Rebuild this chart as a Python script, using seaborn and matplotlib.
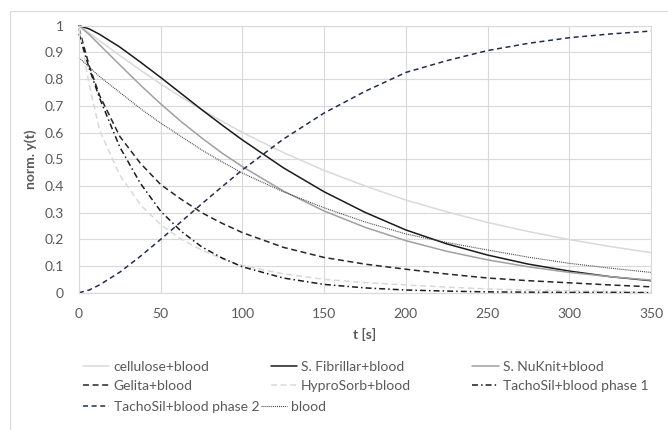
import matplotlib
matplotlib.use("Agg")
import matplotlib.pyplot as plt
import seaborn as sns
import pandas as pd
from matplotlib.patches import Rectangle

# ---------------- data ----------------
t = [0, 6.25, 12.5, 25, 37.5, 50, 62.5, 75, 87.5, 100, 125, 150, 175, 200,
     225, 250, 275, 300, 325, 350]
cellulose = [1.0, 0.973, 0.944, 0.888, 0.834, 0.782, 0.733, 0.686, 0.642, 0.600,
             0.525, 0.458, 0.400, 0.347, 0.303, 0.263, 0.229, 0.199, 0.173, 0.150]
fibrillar = [1.0, 0.988, 0.968, 0.920, 0.864, 0.806, 0.746, 0.686, 0.628, 0.572,
             0.468, 0.378, 0.301, 0.235, 0.183, 0.141, 0.107, 0.081, 0.060, 0.045]
nuknit = [1.0, 0.967, 0.929, 0.853, 0.778, 0.707, 0.641, 0.580, 0.523, 0.472,
          0.381, 0.306, 0.245, 0.195, 0.155, 0.123, 0.097, 0.076, 0.060, 0.047]
gelita = [0.99, 0.85, 0.74, 0.585, 0.485, 0.405, 0.350, 0.300, 0.260, 0.225,
          0.170, 0.132, 0.107, 0.088, 0.070, 0.055, 0.045, 0.037, 0.029, 0.022]
hyprosorb = [0.99, 0.78, 0.61, 0.44, 0.33, 0.255, 0.20, 0.16, 0.127, 0.102,
             0.071, 0.050, 0.038, 0.029, 0.021, 0.014, 0.010, 0.007, 0.005, 0.003]
tacho1 = [0.97, 0.84, 0.73, 0.545, 0.41, 0.305, 0.23, 0.172, 0.13, 0.097,
          0.055, 0.031, 0.018, 0.010, 0.006, 0.003, 0.002, 0.001, 0.001, 0.0]
tacho2 = [0.0, 0.010, 0.029, 0.077, 0.136, 0.200, 0.266, 0.332, 0.397, 0.460,
          0.575, 0.673, 0.754, 0.825, 0.869, 0.907, 0.934, 0.955, 0.969, 0.980]
blood = [0.88, 0.845, 0.81, 0.75, 0.69, 0.635, 0.585, 0.535, 0.49, 0.448,
         0.378, 0.318, 0.265, 0.22, 0.188, 0.16, 0.133, 0.11, 0.092, 0.076]

series_names = ["cellulose+blood", "S. Fibrillar+blood", "S. NuKnit+blood",
                "Gelita+blood", "HyproSorb+blood", "TachoSil+blood phase 1",
                "TachoSil+blood phase 2", "blood"]
series_values = [cellulose, fibrillar, nuknit, gelita, hyprosorb, tacho1,
                 tacho2, blood]

x_ticks = [0, 50, 100, 150, 200, 250, 300, 350]
y_ticks = [0, 0.1, 0.2, 0.3, 0.4, 0.5, 0.6, 0.7, 0.8, 0.9, 1.0]
y_tick_labels = ["0", "0.1", "0.2", "0.3", "0.4", "0.5", "0.6", "0.7", "0.8",
                 "0.9", "1"]

# ---------------- styles ----------------
styles = {
    "cellulose+blood":        dict(color="#d9d9d9", lw=1.1, ls="-"),
    "S. Fibrillar+blood":     dict(color="#1a1a1a", lw=1.1, ls="-"),
    "S. NuKnit+blood":        dict(color="#a0a0a0", lw=1.1, ls="-"),
    "Gelita+blood":           dict(color="#262626", lw=1.1, ls=(0, (4.3, 2.6))),
    "HyproSorb+blood":        dict(color="#d9d9d9", lw=1.1, ls=(0, (4.3, 2.6))),
    "TachoSil+blood phase 1": dict(color="#1a1a1a", lw=1.1, ls=(0, (4.3, 2.2, 1.1, 2.2))),
    "TachoSil+blood phase 2": dict(color="#1f2d4f", lw=1.1, ls=(0, (3.6, 2.6))),
    "blood":                  dict(color="#404040", lw=0.8, ls=(0, (0.7, 0.7))),
}

sns.set_theme(style="white")
plt.rcParams["font.family"] = ["Lato", "DejaVu Sans"]
plt.rcParams["lines.scale_dashes"] = False

W, H = 668, 430
fig = plt.figure(figsize=(W / 100, H / 100), dpi=100)
fig.patch.set_facecolor("white")
ax = fig.add_axes([79 / W, 1 - 292.7 / H, (651 - 79) / W, (292.7 - 25.7) / H])

lines = {}
for name, vals in zip(series_names, series_values):
    st = styles[name]
    sns.lineplot(x=t, y=vals, ax=ax, color=st["color"], linewidth=st["lw"],
                 linestyle=st["ls"], legend=False, clip_on=False)
    lines[name] = ax.get_lines()[-1]
    lines[name].set_label(name)

if ax.get_legend() is not None:
    ax.get_legend().remove()

ax.set_xlim(0, 350)
ax.set_ylim(0, 1)
ax.set_xticks(x_ticks)
ax.set_yticks(y_ticks)
ax.set_yticklabels(y_tick_labels)
ax.grid(True, color="#d9d9d9", linewidth=0.8)
ax.set_axisbelow(True)
for sp in ax.spines.values():
    sp.set_visible(True)
    sp.set_color("#d9d9d9")
    sp.set_linewidth(0.8)
ax.tick_params(axis="both", length=0, labelsize=10, labelcolor="#595959")
ax.tick_params(axis="y", pad=11)
ax.tick_params(axis="x", pad=11)

ax.set_xlabel("t [s]", fontsize=10, fontweight="bold", color="#595959", labelpad=6)
ax.set_ylabel("norm. y(t)", fontsize=10, fontweight="bold", color="#595959", labelpad=5)

# chart frame
fig.patches.append(Rectangle((10 / W, -0.05), 1.2, 1 - 11 / H + 0.05,
                             transform=fig.transFigure, fill=False,
                             edgecolor="#d9d9d9", linewidth=0.8))

leg_kw = dict(loc="upper left", frameon=False, borderaxespad=0, borderpad=0,
              handlelength=1.9, handletextpad=0.3, labelspacing=0.5,
              fontsize=10, labelcolor="#595959")
order_a = ["cellulose+blood", "Gelita+blood", "S. Fibrillar+blood",
           "HyproSorb+blood", "S. NuKnit+blood", "TachoSil+blood phase 1"]
fig.legend([lines[n] for n in order_a], order_a, ncol=3, columnspacing=4.4,
           bbox_to_anchor=(83 / W, 1 - 361 / H), **leg_kw)
order_b = ["TachoSil+blood phase 2", "blood"]
fig.legend([lines[n] for n in order_b], order_b, ncol=2, columnspacing=0.1,
           bbox_to_anchor=(83 / W, 1 - 401 / H), **leg_kw)

fig.savefig("out.png", dpi=100)
